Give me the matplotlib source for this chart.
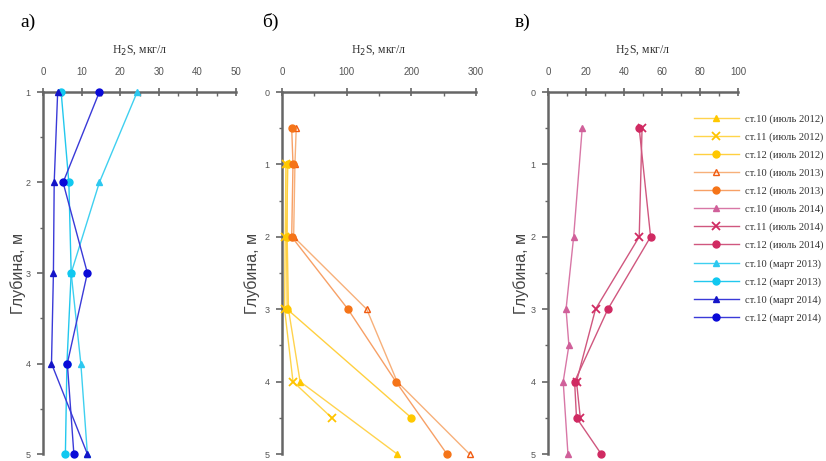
import matplotlib
matplotlib.use("Agg")
import matplotlib.pyplot as plt
from matplotlib.ticker import MultipleLocator

W, H = 826, 461
SANS = ["Liberation Sans Narrow", "Liberation Sans", "DejaVu Sans"]
SERIF = ["Liberation Serif", "DejaVu Serif"]

# --- a) winter profiles (March) ---
a_depth = [1, 2, 3, 4, 5]
a_st10_mar13 = [24.4, 14.6, 7.3, 9.8, 11.5]
a_st12_mar13 = [4.7, 6.7, 7.3, 6.2, 5.8]
a_st10_mar14 = [3.8, 2.9, 2.7, 2.2, 11.5]
a_st12_mar14 = [14.6, 5.2, 11.5, 6.3, 8.0]

# --- б) summer 2012 / 2013 ---
b_depth_st10_12 = [1, 2, 3, 4, 5]
b_st10_jul12 = [8, 8, 10, 28, 178]
b_depth_st11_12 = [1, 2, 3, 4, 4.5]
b_st11_jul12 = [6, 5, 4, 17, 77]
b_depth_st12_12 = [1, 2, 3, 4.5]
b_st12_jul12 = [9, 7, 8, 200]
b_depth_13 = [0.5, 1, 2, 3, 4, 5]
b_st10_jul13 = [22, 20, 18, 131, 178, 290]
b_st12_jul13 = [15, 17, 15, 102, 176, 255]

# --- в) summer 2014 ---
c_depth_st10 = [0.5, 2, 3, 3.5, 4, 5]
c_st10_jul14 = [18, 13.5, 9.5, 11, 8, 10.5]
c_depth_st11 = [0.5, 2, 3, 4, 4.5]
c_st11_jul14 = [49.5, 48, 25, 15, 17]
c_depth_st12 = [0.5, 2, 3, 4, 4.5, 5]
c_st12_jul14 = [48, 54, 31.5, 14, 15, 28]

# label, line colour, marker, marker face colour
styles = {
    "st10_jul12": ("ст.10 (июль 2012)", "#FFD34E", "^", "#FFC800"),
    "st11_jul12": ("ст.11 (июль 2012)", "#FFD54A", "x", "#FFC400"),
    "st12_jul12": ("ст.12 (июль 2012)", "#FFD040", "o", "#FFC800"),
    "st10_jul13": ("ст.10 (июль 2013)", "#F7B07A", "^", "none"),
    "st12_jul13": ("ст.12 (июль 2013)", "#F7A066", "o", "#F57418"),
    "st10_jul14": ("ст.10 (июль 2014)", "#D877A6", "^", "#D0609A"),
    "st11_jul14": ("ст.11 (июль 2014)", "#D0577F", "x", "#D02A62"),
    "st12_jul14": ("ст.12 (июль 2014)", "#D0577F", "o", "#D02A62"),
    "st10_mar13": ("ст.10 (март 2013)", "#3FD0F0", "^", "#2CC8F0"),
    "st12_mar13": ("ст.12 (март 2013)", "#22C8EE", "o", "#10C8F0"),
    "st10_mar14": ("ст.10 (март 2014)", "#3A3AD8", "^", "#1515C8"),
    "st12_mar14": ("ст.12 (март 2014)", "#3A3AD8", "o", "#0A0AD8"),
}


def draw(ax, key, x, y):
    label, col, mk, face = styles[key]
    edge = "#F05A10" if face == "none" else face
    ax.plot(x, y, color=col, lw=1.0, marker=mk, ms=5 if mk != "x" else 6,
            mfc=face, mec=edge if mk != "x" else face, mew=1.3 if mk == "x" else 1,
            label=label, clip_on=False, zorder=3)


def px_axes(fig, left, right, top, bottom):
    return fig.add_axes([left / W, 1 - bottom / H, (right - left) / W, (bottom - top) / H])


def style_axes(ax, xmax, xmaj, xmin, ymin_lim, ylab_x):
    ax.set_xlim(0, xmax)
    ax.set_ylim(5, ymin_lim)
    ax.xaxis.tick_top()
    ax.xaxis.set_major_locator(MultipleLocator(xmaj))
    ax.xaxis.set_minor_locator(MultipleLocator(xmin))
    ax.yaxis.set_major_locator(MultipleLocator(1))
    ax.yaxis.set_minor_locator(MultipleLocator(0.5))
    for s in ("right", "bottom"):
        ax.spines[s].set_visible(False)
    for s in ("left", "top"):
        ax.spines[s].set_color("#666666")
        ax.spines[s].set_linewidth(1.8)
    ax.tick_params(axis="x", which="major", direction="inout", length=6, width=1.2,
                   colors="#666666", labelcolor="#555555", labelsize=7, pad=8)
    ax.tick_params(axis="x", which="minor", direction="in", length=3, width=1, colors="#666666")
    ax.tick_params(axis="y", which="major", direction="out", length=4, width=1.2,
                   colors="#666666", labelcolor="#555555", labelsize=6.5, pad=5)
    ax.tick_params(axis="y", which="minor", direction="out", length=2, width=1, colors="#666666")
    for lab in ax.get_xticklabels() + ax.get_yticklabels():
        lab.set_family(SANS)
    ax.set_xlabel("H$_2$S, мкг/л", family=SERIF, fontsize=8.5, color="#333333", labelpad=10)
    ax.xaxis.set_label_position("top")
    ax.set_ylabel("Глубина, м", family=SANS, fontsize=11.5, color="#444444", va="center")
    pos = ax.get_position()
    ax.yaxis.set_label_coords((ylab_x - pos.x0 * W) / (pos.width * W), 0.5)
    ax.patch.set_alpha(0)


fig = plt.figure(figsize=(W / 100, H / 100), dpi=100)

ax_a = px_axes(fig, 43, 236, 92, 454)
draw(ax_a, "st10_mar13", a_st10_mar13, a_depth)
draw(ax_a, "st12_mar13", a_st12_mar13, a_depth)
draw(ax_a, "st10_mar14", a_st10_mar14, a_depth)
draw(ax_a, "st12_mar14", a_st12_mar14, a_depth)
style_axes(ax_a, 50, 10, 5, 1, 18)

ax_b = px_axes(fig, 282, 476, 92, 454)
draw(ax_b, "st10_jul12", b_st10_jul12, b_depth_st10_12)
draw(ax_b, "st11_jul12", b_st11_jul12, b_depth_st11_12)
draw(ax_b, "st12_jul12", b_st12_jul12, b_depth_st12_12)
draw(ax_b, "st10_jul13", b_st10_jul13, b_depth_13)
draw(ax_b, "st12_jul13", b_st12_jul13, b_depth_13)
style_axes(ax_b, 300, 100, 50, 0, 252)

ax_c = px_axes(fig, 548, 738, 92, 454)
draw(ax_c, "st10_jul14", c_st10_jul14, c_depth_st10)
draw(ax_c, "st11_jul14", c_st11_jul14, c_depth_st11)
draw(ax_c, "st12_jul14", c_st12_jul14, c_depth_st12)
style_axes(ax_c, 100, 20, 10, 0, 521)

# panel letters
for txt, x in (("а)", 20), ("б)", 262), ("в)", 515)):
    fig.text(x / W, 1 - 22 / H, txt, family=SERIF, fontsize=14, va="center", ha="left")

# shared legend in series order
handles, labels = [], []
for ax in (ax_b, ax_c, ax_a):
    h, l = ax.get_legend_handles_labels()
    handles += h
    labels += l
leg = fig.legend(handles, labels, loc="upper left", bbox_to_anchor=(690 / W, 1 - 110 / H),
                 frameon=False, prop={"family": SERIF, "size": 7.6}, handlelength=4.2,
                 labelspacing=0.8, handletextpad=0.6, borderaxespad=0)
for t in leg.get_texts():
    t.set_color("#333333")

fig.savefig("out.png", dpi=100)
